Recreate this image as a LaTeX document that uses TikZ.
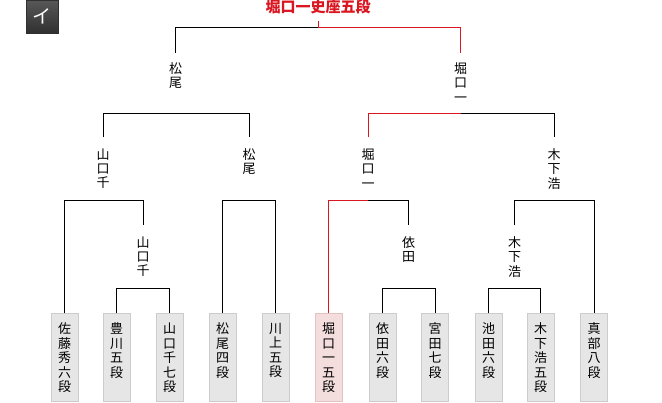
\documentclass[tikz,border=0pt]{standalone}
\usepackage{fontspec}
\newfontfamily\cjk{Noto Sans CJK JP}
\definecolor{tred}{RGB}{218,22,32}
\definecolor{leafbg}{RGB}{230,230,230}
\definecolor{leafline}{RGB}{204,204,204}
\definecolor{winbg}{RGB}{244,221,221}
\definecolor{winline}{RGB}{226,194,194}
\definecolor{badgetop}{RGB}{88,88,88}
\definecolor{badgebot}{RGB}{48,48,48}
\newcommand\leaftext[1]{\parbox[b][70pt][t]{26pt}{\centering #1}}
\newcommand\labtext[1]{\parbox[b][41pt][t]{20pt}{\centering #1}}
\begin{document}
\begin{tikzpicture}[x=1pt,y=-1pt,
  conn/.style={draw=black, line width=1pt},
  win/.style={draw=tred, line width=1pt},
  leaf/.style={draw=leafline, fill=leafbg, line width=1pt, inner xsep=0pt, inner ysep=9pt,
    minimum width=27pt, anchor=north, font=\cjk\fontsize{13}{14.5}\selectfont},
  winleaf/.style={leaf, draw=winline, fill=winbg},
  lab/.style={inner xsep=0pt, inner ysep=11pt, anchor=north, font=\cjk\fontsize{13}{14.3}\selectfont},
  labtop/.style={lab, inner ysep=9.5pt},
  titlenode/.style={anchor=south, inner ysep=6.5pt, text=tred, font=\cjk\bfseries\fontsize{15}{16}\selectfont},
  badge/.style={minimum width=32pt, minimum height=33pt, inner sep=0pt, top color=badgetop, bottom color=badgebot,
    draw=badgebot, line width=0.6pt, text=white, font=\cjk\fontsize{19}{20}\selectfont}
]
\useasboundingbox (0,0) rectangle (662,403);

% badge
\node[badge] (badge) at (42,16.5) {イ};

% title
\node[titlenode] (t) at (318,21) {堀口一史座五段};
\coordinate (rootj) at ([yshift=-7pt]t.south);

% leaves
\node[leaf] (b1) at (64.5,313.5) {\leaftext{佐\\藤\\秀\\六\\段}};
\node[leaf] (b2) at (116.5,313.5) {\leaftext{豊\\川\\五\\段}};
\node[leaf] (b3) at (169.5,313.5) {\leaftext{山\\口\\千\\七\\段}};
\node[leaf] (b4) at (222.5,313.5) {\leaftext{松\\尾\\四\\段}};
\node[leaf] (b5) at (275.5,313.5) {\leaftext{川\\上\\五\\段}};
\node[winleaf] (b6) at (328.5,313.5) {\leaftext{堀\\口\\一\\五\\段}};
\node[leaf] (b7) at (382.5,313.5) {\leaftext{依\\田\\六\\段}};
\node[leaf] (b8) at (435,313.5) {\leaftext{宮\\田\\七\\段}};
\node[leaf] (b9) at (488.5,313.5) {\leaftext{池\\田\\六\\段}};
\node[leaf] (b10) at (540.5,313.5) {\leaftext{木\\下\\浩\\五\\段}};
\node[leaf] (b11) at (594,313.5) {\leaftext{真\\部\\八\\段}};

% round 1 winners
\node[lab] (r1) at (143,225.5) {\labtext{山\\口\\千}};
\node[lab] (r2) at (408.5,225.5) {\labtext{依\\田}};
\node[lab] (r3) at (514.5,225.5) {\labtext{木\\下\\浩}};

% round 2 winners
\node[lab] (q1) at (103,137.5) {\labtext{山\\口\\千}};
\node[lab] (q2) at (249,137.5) {\labtext{松\\尾}};
\node[lab] (q3) at (368,137.5) {\labtext{堀\\口\\一}};
\node[lab] (q4) at (554,137.5) {\labtext{木\\下\\浩}};

% semi-final winners
\node[labtop] (p1) at (175.5,53) {\labtext{松\\尾}};
\node[labtop] (p2) at (460.5,53) {\labtext{堀\\口\\一}};

% round 1 brackets
\draw[conn] (b2.north) |- (r1.south) -| (b3.north);
\draw[conn] (b7.north) |- (r2.south) -| (b8.north);
\draw[conn] (b9.north) |- (r3.south) -| (b10.north);

% round 2 brackets
\draw[conn] (b1.north) |- (q1.south) -| (r1.north);
\draw[conn] (b4.north) |- (q2.south) -| (b5.north);
\draw[win] (b6.north) |- (q3.south);
\draw[conn] (q3.south) -| (r2.north);
\draw[conn] (r3.north) |- (q4.south) -| (b11.north);

% semi-final brackets
\draw[conn] (q1.north) |- (p1.south) -| (q2.north);
\draw[win] (q3.north) |- (p2.south);
\draw[conn] (p2.south) -| (q4.north);

% final
\draw[conn] (p1.north) |- (rootj);
\draw[win] (p2.north) |- (rootj) -- (t.south);
\end{tikzpicture}
\end{document}
